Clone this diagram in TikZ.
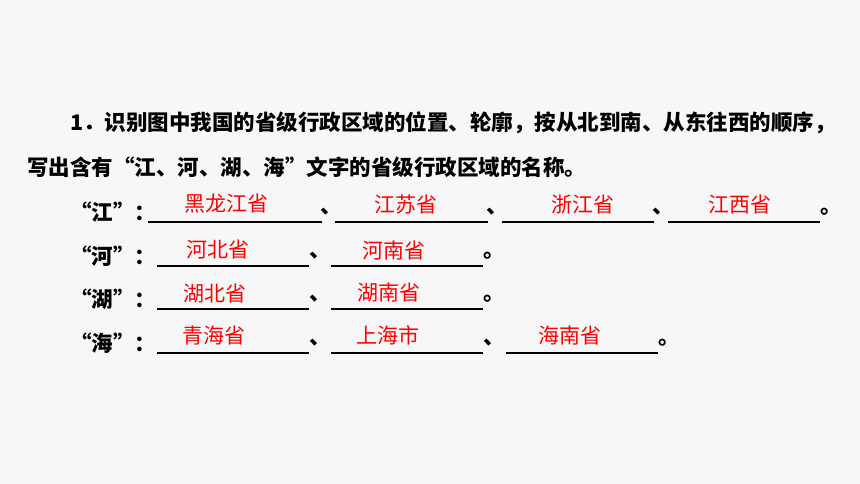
\documentclass[tikz,border=0pt]{standalone}
\usepackage{fontspec}
\newfontfamily\cjk{Noto Sans CJK SC}
\definecolor{bgpaper}{HTML}{F7F7F7}
\definecolor{ansred}{HTML}{FF0000}
\begin{document}
\begin{tikzpicture}[
        x=1pt, y=-1pt,
        txt/.style={anchor=west, inner sep=0pt, font=\cjk\bfseries\fontsize{21.5}{26}\selectfont},
        ans/.style={inner sep=0pt, text=ansred, font=\cjk\fontsize{21}{25}\selectfont},
        blank/.style={line width=1.6pt}
    ]
    \fill[bgpaper] (0,0) rectangle (860,484);
    \useasboundingbox (0,0) rectangle (860,484);

    % question
    \node[txt] (q1) at (70,123) {1．识别图中我国的省级行政区域的位置、轮廓，按从北到南、从东往西的顺序，};
    \node[txt] (q2) at (27,167) {写出含有“江、河、湖、海”文字的省级行政区域的名称。};

    % row jiang
    \node[txt] (jiang) at (70,212) {“江”：};
    \coordinate (j1a) at (148,222); \coordinate (j1b) at (322,222);
    \coordinate (j2a) at (335,222); \coordinate (j2b) at (488,222);
    \coordinate (j3a) at (502,222); \coordinate (j3b) at (654,222);
    \coordinate (j4a) at (668,222); \coordinate (j4b) at (820,222);
    \draw[blank] (j1a) -- (j1b);
    \draw[blank] (j2a) -- (j2b);
    \draw[blank] (j3a) -- (j3b);
    \draw[blank] (j4a) -- (j4b);
    \node[txt] (js1) at (320,212) {、};
    \node[txt] (js2) at (486,212) {、};
    \node[txt] (js3) at (652,212) {、};
    \node[txt] (jend) at (820,212) {。};
    \node[ans] (heilongjiang) at (226,204) {黑龙江省};
    \node[ans] (jiangsu) at (406,205) {江苏省};
    \node[ans] (zhejiang) at (583,205) {浙江省};
    \node[ans] (jiangxi) at (740,205) {江西省};

    % row he
    \node[txt] (he) at (70,256) {“河”：};
    \coordinate (h1a) at (157,266); \coordinate (h1b) at (309,266);
    \coordinate (h2a) at (331,266); \coordinate (h2b) at (483,266);
    \draw[blank] (h1a) -- (h1b);
    \draw[blank] (h2a) -- (h2b);
    \node[txt] (hs1) at (309,256) {、};
    \node[txt] (hend) at (483,256) {。};
    \node[ans] (hebei) at (218,250) {河北省};
    \node[ans] (henan) at (394,251) {河南省};

    % row hu
    \node[txt] (hu) at (70,299) {“湖”：};
    \coordinate (u1a) at (157,309); \coordinate (u1b) at (309,309);
    \coordinate (u2a) at (331,309); \coordinate (u2b) at (483,309);
    \draw[blank] (u1a) -- (u1b);
    \draw[blank] (u2a) -- (u2b);
    \node[txt] (us1) at (309,299) {、};
    \node[txt] (uend) at (483,299) {。};
    \node[ans] (hubei) at (215,294) {湖北省};
    \node[ans] (hunan) at (389,293) {湖南省};

    % row hai
    \node[txt] (hai) at (70,343) {“海”：};
    \coordinate (a1a) at (157,353); \coordinate (a1b) at (309,353);
    \coordinate (a2a) at (331,353); \coordinate (a2b) at (483,353);
    \coordinate (a3a) at (506,353); \coordinate (a3b) at (658,353);
    \draw[blank] (a1a) -- (a1b);
    \draw[blank] (a2a) -- (a2b);
    \draw[blank] (a3a) -- (a3b);
    \node[txt] (as1) at (309,343) {、};
    \node[txt] (as2) at (483,343) {、};
    \node[txt] (aend) at (658,343) {。};
    \node[ans] (qinghai) at (214,336) {青海省};
    \node[ans] (shanghai) at (388,335) {上海市};
    \node[ans] (hainan) at (570,336) {海南省};
\end{tikzpicture}
\end{document}
